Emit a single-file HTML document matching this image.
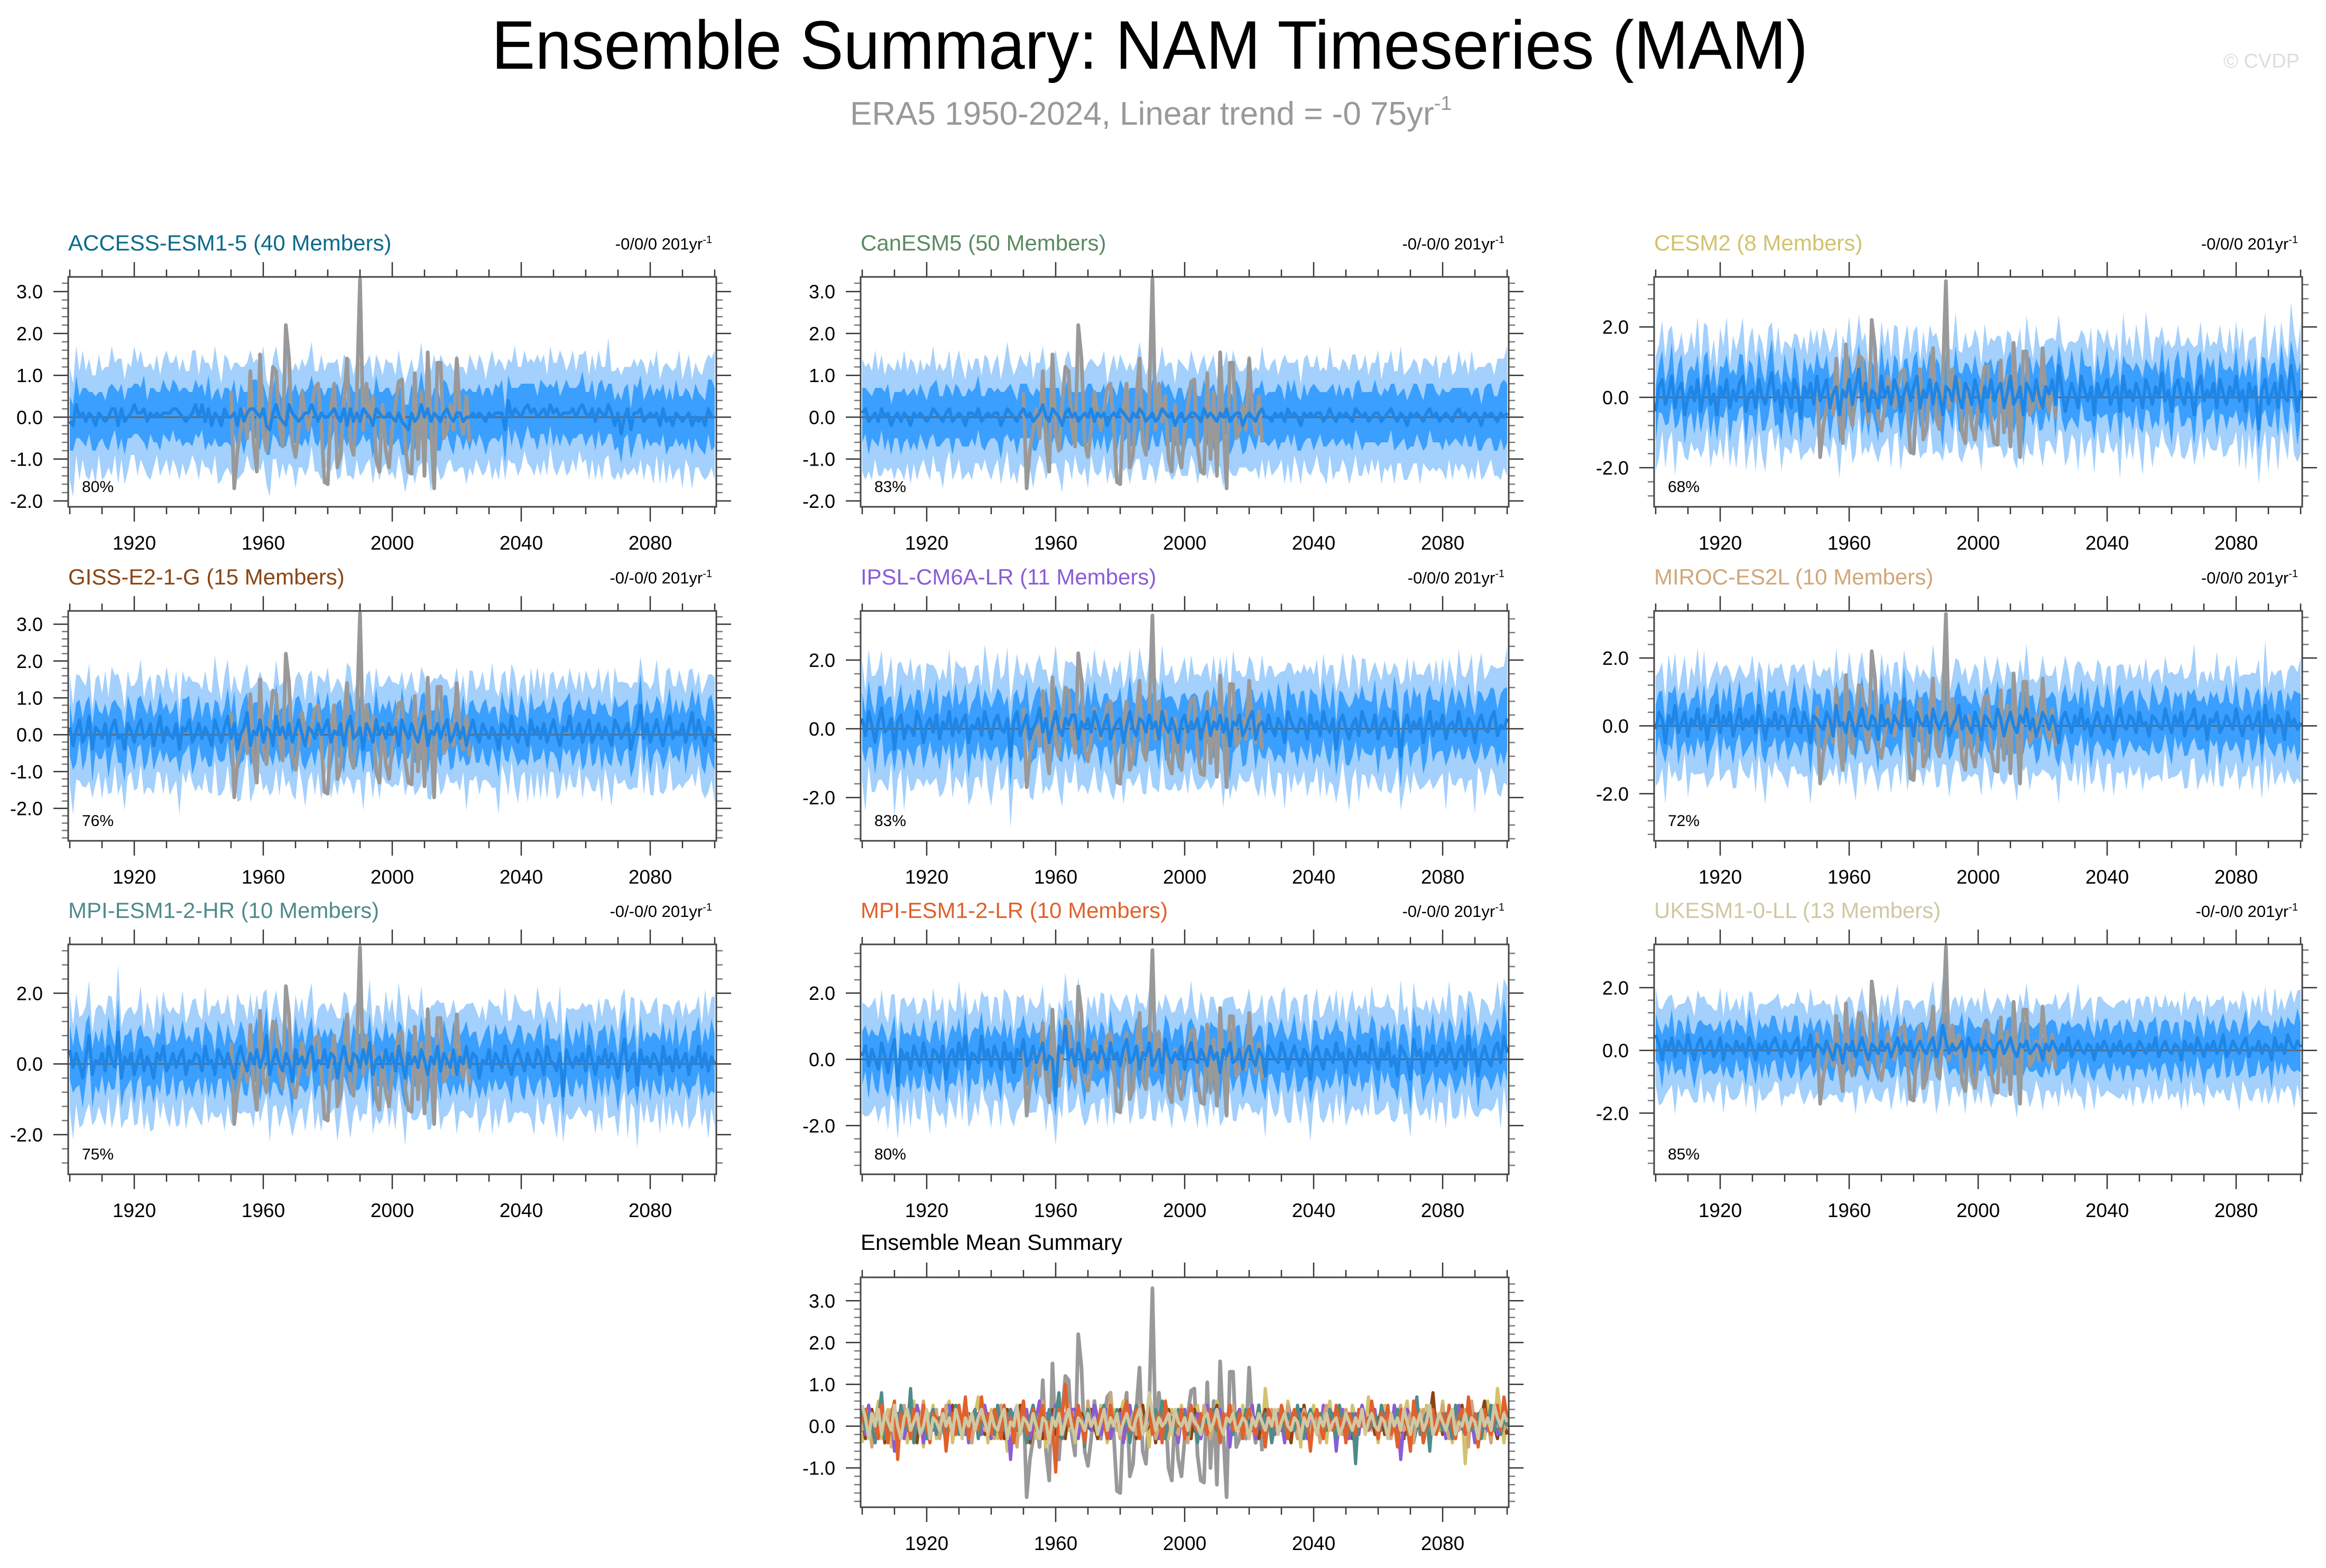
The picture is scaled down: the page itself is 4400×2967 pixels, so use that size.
<!DOCTYPE html>
<html><head><meta charset="utf-8"><style>
html,body{margin:0;padding:0;background:#fff;}
svg{display:block;font-family:"Liberation Sans",sans-serif;}
</style></head><body>
<svg id="chart" xmlns="http://www.w3.org/2000/svg" width="4400" height="2967" viewBox="0 0 4400 2967">
<rect x="0" y="0" width="4400" height="2967" fill="#fff"/>
<text x="2175" y="130" font-size="130" text-anchor="middle" textLength="2490" lengthAdjust="spacingAndGlyphs" fill="#000">Ensemble Summary: NAM Timeseries (MAM)</text>
<text x="1608" y="236" font-size="62" fill="#999">ERA5 1950-2024, Linear trend = -0 75yr<tspan dy="-28" font-size="38">-1</tspan></text>
<text x="4350" y="128" font-size="38" text-anchor="end" fill="#ddd">© CVDP</text>
</svg>
<script>
const startYear = 1900;
const endYear = 2100;
const era5Start = 1950;
const era5 = [0.6,-1.7,-0.8,-0.3,0.2,-0.5,1.1,-0.6,-1.3,1.5,-0.4,-0.8,0.3,1.2,1.1,-0.2,-0.7,2.2,1.4,-0.6,-0.95,-0.3,0.6,0.1,-0.3,0.2,0.7,0.8,-0.2,-1.55,-1.6,0.2,0.8,-1.2,-0.9,0.4,1.4,-0.6,-0.9,0.5,3.3,-0.3,0.8,-0.1,0.5,-1.0,-1.3,0.3,-0.8,-1.2,-0.3,0.3,0.85,0.9,-0.7,-1.3,-1.35,1.05,-1.0,0.6,-1.4,1.55,-0.2,-1.7,1.3,1.3,-0.5,-0.3,0.3,-0.3,1.4,0.1,-0.4,0.5,-0.6];

const accessMean = [-0.1,-0.2,0.3,0.0,0.1,-0.1,0.1,0.0,-0.2,0.1,0.0,-0.1,0.0,0.2,0.2,-0.2,0.2,-0.1,0.0,0.1,0.3,0.1,0.1,0.2,-0.1,0.1,0.0,0.1,0.0,0.1,0.1,0.1,0.2,0.2,0.1,0.0,-0.1,0.0,0.1,0.3,0.0,0.3,-0.1,0.2,-0.2,0.1,0.0,-0.2,0.2,0.0,0.0,0.1,-0.2,0.2,-0.1,0.1,0.2,0.2,0.1,0.0,0.2,-0.2,-0.3,0.1,0.3,0.0,-0.1,-0.2,0.3,0.1,0.0,-0.1,0.0,0.1,0.1,0.3,0.1,-0.1,0.1,0.0,0.0,0.1,0.2,0.0,-0.1,0.2,-0.2,0.2,-0.1,0.1,-0.1,0.2,0.1,0.0,-0.2,0.2,0.1,0.0,0.0,0.1,0.0,-0.1,0.1,-0.1,-0.2,-0.3,0.1,-0.1,0.0,0.3,0.0,0.2,-0.1,0.1,0.0,-0.1,0.1,0.2,0.0,-0.1,0.1,0.1,-0.1,0.0,0.0,0.1,0.0,0.1,0.0,-0.1,0.1,0.0,0.1,0.1,0.1,-0.3,0.4,0.0,0.2,0.1,0.0,0.2,0.3,0.1,0.2,0.0,0.1,0.2,0.0,0.3,0.1,0.2,0.0,0.1,0.1,0.1,0.2,0.0,0.2,0.3,0.1,0.0,0.2,-0.1,0.2,0.1,0.0,0.3,0.1,-0.2,0.1,-0.4,0.0,0.2,-0.3,0.1,0.1,0.2,-0.1,0.0,0.1,0.0,0.1,-0.2,0.2,-0.1,0.0,-0.2,0.1,0.0,-0.1,0.0,0.1,-0.2,0.0,-0.1,0.0,-0.2,0.2,0.0,0.0];
const canesmMean = [0.1,0.2,-0.1,0.0,0.1,-0.1,0.2,0.0,0.1,-0.2,0.0,0.1,-0.1,0.1,0.0,-0.2,0.1,0.0,0.1,0.0,-0.1,0.0,0.2,0.1,0.0,-0.1,0.1,0.2,-0.1,0.0,0.1,0.0,-0.2,0.1,0.1,0.0,0.2,-0.1,0.0,0.1,0.0,0.1,0.1,-0.2,0.0,0.2,0.1,0.0,-0.1,0.1,0.2,0.0,0.1,-0.1,0.0,0.1,0.3,0.0,-0.1,0.2,0.1,0.0,-0.2,0.1,0.2,0.0,0.1,-0.1,0.0,0.1,0.0,0.2,-0.1,0.1,0.0,0.1,-0.2,0.0,0.1,0.0,0.2,0.1,0.0,-0.1,0.1,0.0,0.2,0.1,-0.1,0.0,0.1,-0.1,0.0,0.2,0.1,0.0,0.1,-0.2,0.0,0.1,-0.1,0.0,0.1,0.1,0.0,-0.1,0.2,0.0,0.1,0.0,-0.1,0.1,0.0,0.2,-0.1,0.0,0.1,0.1,-0.2,0.0,0.1,0.0,-0.1,0.1,0.2,0.0,0.0,-0.1,0.1,0.0,0.1,-0.1,0.2,0.0,0.1,0.0,-0.2,0.1,0.0,0.1,0.0,0.1,0.1,-0.1,0.0,0.2,0.0,-0.1,0.1,0.0,0.1,0.0,-0.1,0.2,0.1,0.0,0.1,-0.1,0.0,0.1,0.1,-0.1,0.0,0.1,0.2,0.0,-0.1,0.1,0.0,-0.2,0.1,0.0,0.1,0.0,-0.1,0.1,0.2,0.0,0.1,-0.1,0.0,0.1,0.0,-0.1,0.1,0.2,0.0,0.1,-0.1,0.0,0.1,0.0,-0.2,0.1,0.0,0.1,0.0,-0.1,0.1,0.0,0.1];
const cesm2Mean = [-0.4,0.3,0.5,-0.2,0.1,0.6,-0.3,0.2,0.4,-0.5,0.0,0.3,-0.1,0.5,-0.4,0.2,0.6,-0.2,0.1,-0.5,0.3,0.0,0.5,-0.3,0.2,-0.1,0.4,0.6,-0.4,0.1,0.2,-0.3,0.5,0.0,-0.2,0.3,0.7,-0.1,0.2,-0.4,0.4,0.1,-0.3,0.5,0.2,-0.6,0.3,0.0,0.4,-0.2,0.6,-0.1,0.2,0.5,-0.3,0.1,0.3,-0.5,0.2,0.0,0.5,-0.2,0.3,0.8,-0.1,0.4,-0.4,0.2,0.1,-0.3,0.6,0.0,0.3,-0.2,0.5,0.2,-0.4,0.1,0.4,-0.1,0.3,0.6,-0.3,0.2,0.0,0.5,-0.2,0.4,0.1,-0.5,0.3,0.2,-0.1,0.6,0.0,-0.3,0.4,0.2,-0.2,0.5,0.1,-0.4,0.3,0.0,0.5,-0.1,0.2,0.4,-0.3,0.1,0.6,-0.2,0.0,0.3,-0.5,0.4,0.2,-0.1,0.5,0.0,-0.3,0.3,0.1,0.5,-0.2,0.9,0.2,-0.4,0.0,0.4,0.1,-0.3,0.6,0.2,-0.1,0.3,-0.5,0.4,0.0,0.2,0.5,-0.2,0.1,0.3,-0.4,0.6,0.0,0.2,-0.1,0.4,0.1,-0.3,0.5,0.2,-0.2,0.3,0.0,0.7,-0.1,0.2,-0.4,0.3,0.5,0.0,-0.2,0.4,0.1,-0.5,0.3,0.6,-0.1,0.2,0.0,0.4,-0.3,0.5,0.1,-0.2,0.3,0.0,0.6,-0.1,0.2,-0.4,0.4,0.0,0.3,-0.9,0.2,0.5,-0.2,0.1,0.4,-0.3,0.6,0.0,-0.1,0.9,0.3,-0.4,0.2];
const gissMean = [0.2,-0.3,0.1,0.4,-0.2,0.0,0.5,-0.4,0.2,0.1,-0.1,0.3,-0.3,0.2,0.4,-0.1,0.0,-0.4,0.3,0.1,-0.2,0.2,0.4,-0.1,0.0,0.3,-0.3,0.1,0.5,-0.2,0.2,0.0,-0.1,0.3,-0.4,0.2,0.1,0.4,-0.2,0.0,0.3,-0.1,0.2,0.0,-0.3,0.4,0.1,-0.2,0.2,0.5,-0.1,0.3,-0.4,0.0,0.2,0.6,-0.3,0.1,0.0,0.4,-0.2,0.2,0.1,-0.3,0.5,0.0,0.2,-0.1,0.3,-0.2,0.1,0.4,0.0,-0.3,0.2,0.1,-0.1,0.3,0.0,0.2,0.4,-0.2,0.1,0.0,0.3,-0.3,0.2,0.5,-0.1,0.0,0.2,-0.4,0.3,0.1,-0.2,0.4,0.0,0.2,-0.1,0.3,0.0,0.2,-0.3,0.4,0.1,-0.1,0.3,0.0,-0.2,0.2,0.5,-0.3,0.1,0.0,0.3,-0.1,0.2,0.4,-0.2,0.0,0.3,-0.1,0.2,-0.3,0.1,0.4,0.0,-0.2,0.3,0.1,-0.1,0.2,0.0,-0.4,0.3,0.2,-0.1,0.5,0.0,-0.2,0.2,0.1,-0.3,0.4,0.0,0.2,-0.1,0.3,-0.2,0.1,0.4,0.0,-0.3,0.2,0.1,0.5,-0.1,0.0,0.3,-0.2,0.1,0.4,-0.2,0.0,0.3,-0.1,0.2,0.0,-0.3,0.4,0.2,-0.1,0.1,0.3,-0.4,0.0,0.2,0.8,-0.1,0.3,-0.2,0.1,0.4,0.0,-0.3,0.2,0.5,-0.1,0.1,0.0,0.3,-0.2,0.2,0.6,-0.1,0.4,0.0,-0.3,0.2,0.1,-0.2];
const ipslMean = [0.3,-0.2,0.5,0.1,-0.4,0.2,0.6,-0.1,0.0,0.3,-0.6,0.2,0.4,-0.3,0.1,0.0,-0.2,0.5,0.2,-0.4,0.1,0.3,-0.1,0.4,-0.3,0.2,0.0,0.5,-0.2,0.3,-0.1,0.2,0.4,-0.4,0.1,0.0,0.3,-0.2,0.5,0.1,-0.3,0.2,0.4,0.0,-0.1,0.3,-0.8,0.2,0.5,-0.2,0.1,0.4,-0.3,0.0,0.2,0.6,-0.1,0.3,-0.4,0.1,0.5,0.0,-0.2,0.3,0.1,0.4,0.4,-0.3,0.2,0.0,0.3,-0.1,0.5,0.2,-0.2,0.1,0.4,-0.3,0.0,0.2,0.3,-0.4,0.1,0.5,0.0,-0.2,0.3,0.2,-0.1,0.4,0.0,0.2,-0.3,0.5,0.1,-0.1,0.3,0.0,-0.4,0.2,0.4,-0.1,0.2,0.0,0.3,-0.3,0.1,0.5,-0.2,0.2,0.0,0.4,-0.1,0.3,-0.5,0.2,0.1,0.4,-0.2,0.0,0.3,0.5,-0.3,0.1,0.2,-0.1,0.4,0.0,-0.2,0.3,0.1,-0.4,0.5,0.2,0.0,-0.1,0.3,0.2,-0.3,0.4,0.0,0.2,-0.2,0.5,0.1,-0.1,0.3,-0.6,0.2,0.4,0.0,-0.3,0.1,0.3,-0.2,0.5,0.2,-0.1,0.0,0.4,-0.3,0.1,0.3,0.0,-0.2,0.5,0.2,-0.8,0.1,0.4,-0.1,0.2,0.0,0.3,-0.4,0.1,0.5,-0.2,0.2,0.0,0.4,-0.3,0.1,0.2,-0.1,0.5,0.0,-0.2,0.3,0.1,-0.4,0.2,0.4,0.0,-0.1,0.3,0.5,-0.2,0.1,0.0,0.3];
const mirocMean = [-0.1,0.4,0.2,-0.5,0.3,0.0,0.6,-0.2,0.1,0.4,-0.3,0.2,0.0,0.5,-0.1,0.3,-0.4,0.2,0.1,0.6,-0.2,0.3,0.0,0.4,-0.3,0.1,0.5,-0.1,0.2,0.0,0.3,-0.2,0.6,0.1,-0.4,0.2,0.0,0.4,-0.1,0.3,0.2,-0.3,0.1,0.5,0.0,-0.2,0.4,0.1,-0.5,0.3,0.2,0.0,-0.1,0.4,0.2,-0.3,0.6,0.0,0.1,-0.2,0.4,0.1,-0.3,0.2,0.5,0.0,-0.1,0.3,0.2,-0.4,0.6,0.0,0.2,-0.2,0.3,0.1,-0.1,0.8,0.0,0.2,-0.3,0.4,0.1,0.0,0.3,-0.2,0.5,0.1,-0.1,0.2,0.4,-0.3,0.0,0.2,0.6,-0.1,0.3,0.0,-0.2,0.4,0.1,-0.4,0.3,0.2,0.0,-0.1,0.5,0.2,-0.3,0.1,0.4,0.0,-0.2,0.3,0.1,0.5,-0.1,0.2,-0.3,0.0,0.4,0.2,-0.1,0.3,0.0,-0.5,0.2,0.4,0.1,-0.2,0.3,0.0,0.5,-0.1,0.2,-0.3,0.1,0.4,0.0,-0.2,0.3,0.1,-0.4,0.2,0.5,0.0,-0.1,0.3,0.2,-0.2,0.4,0.0,0.1,-0.3,0.3,0.2,0.0,-0.1,0.5,0.1,-0.2,0.3,0.0,0.4,-0.3,0.1,0.2,0.5,-0.1,0.0,0.3,-0.4,0.2,0.1,0.4,-0.2,0.0,0.3,0.1,-0.1,0.5,0.0,-0.3,0.2,0.3,-0.1,0.1,0.4,-0.5,0.6,0.0,0.2,-0.2,0.3,0.1,-0.4,0.4,0.0,0.2,-0.1,0.1];
const mpihrMean = [0.4,-0.1,0.3,0.0,-0.4,0.2,0.8,-0.3,0.1,0.0,0.3,-0.2,0.5,0.1,-0.1,0.9,-0.4,0.2,0.0,0.3,-0.3,0.1,0.4,-0.2,0.2,0.0,-0.4,0.3,0.1,0.5,-0.2,0.0,0.3,-0.1,0.2,0.4,-0.3,0.1,0.0,0.3,0.2,-0.2,0.5,0.0,0.1,-0.3,0.4,0.2,-0.1,0.3,0.0,-0.4,0.2,0.5,0.1,-0.2,0.3,0.0,0.4,-0.1,0.2,0.8,-0.3,0.1,0.4,0.0,-0.2,0.3,0.1,-0.5,0.4,0.0,0.2,-0.1,0.3,0.5,-0.2,0.1,0.0,0.4,-0.1,0.3,0.2,-0.4,0.1,0.5,0.0,-0.2,0.3,0.2,-0.1,0.4,0.0,0.6,-0.3,0.1,0.2,-0.1,0.4,0.0,0.3,-0.2,0.5,0.1,-0.4,0.3,0.0,0.2,-0.1,0.4,0.1,-0.3,0.2,0.0,0.5,-0.2,0.3,0.1,-0.1,0.4,-0.3,0.2,0.0,0.5,-0.1,0.3,0.2,-0.4,0.1,0.0,0.4,-0.2,0.3,0.1,-0.1,0.5,0.0,-0.3,0.2,0.4,0.1,-0.2,0.3,0.0,-0.1,0.4,0.2,-0.3,0.5,0.1,0.0,-0.2,0.3,-0.9,0.4,0.1,-0.1,0.2,0.0,0.3,-0.2,0.5,0.1,-0.3,0.2,0.0,0.4,-0.1,0.3,0.1,-0.4,0.2,0.7,-0.2,0.1,0.3,-0.6,0.4,0.0,0.2,-0.1,0.3,0.1,-0.3,0.5,0.0,0.2,-0.2,0.4,-0.1,0.1,0.3,-0.3,0.2,0.0,0.5,-0.1,0.3,-0.2,0.2,0.0];
const mpilrMean = [0.1,0.4,-0.2,0.3,0.0,-0.3,0.5,0.1,-0.4,0.2,0.6,-0.8,0.3,0.0,0.2,-0.3,0.4,0.1,-0.2,0.5,0.0,-0.4,0.3,0.2,-0.1,0.4,-0.6,0.1,0.3,-0.2,0.5,0.0,0.7,-0.3,0.2,0.1,-0.1,0.7,0.0,0.3,-0.2,0.4,0.1,-0.3,0.5,0.0,0.2,-0.4,0.3,0.1,0.6,-0.2,0.0,0.4,-0.1,0.2,0.5,-0.3,0.1,0.0,-1.1,0.4,0.2,1.0,0.0,0.3,-0.2,0.5,0.1,-0.4,0.3,0.0,0.2,-0.1,0.4,0.1,-0.3,0.5,0.0,0.2,-0.2,0.3,0.6,-0.1,0.0,0.4,-0.3,0.2,0.1,0.5,-0.2,0.0,0.3,-0.4,0.6,0.1,-0.1,0.2,0.0,0.4,-0.3,0.2,0.5,0.0,-0.1,0.3,0.1,-0.2,0.4,0.0,0.2,-0.4,0.3,0.1,0.5,-0.1,0.0,0.3,-0.3,0.2,0.4,0.0,-0.2,0.3,0.1,-0.5,0.4,0.2,0.0,-0.1,0.5,0.2,-0.3,0.1,0.4,0.0,-0.2,0.3,0.1,-0.6,0.2,0.4,0.0,-0.3,0.3,0.1,-0.1,0.5,0.0,0.2,-0.4,0.3,0.1,-0.2,0.4,0.0,0.2,-0.1,0.6,0.1,-0.3,0.3,0.0,0.5,-0.2,0.1,-0.5,0.4,0.2,0.0,-0.6,0.6,0.1,0.3,-0.4,0.2,0.0,0.4,-0.2,0.1,0.3,-0.1,0.5,0.0,-0.3,0.2,0.4,-0.2,0.7,0.0,0.3,-0.5,0.1,0.4,0.0,-0.2,0.3,0.5,-0.1,0.7,0.2];
const ukesmMean = [0.5,0.2,-0.3,0.3,0.0,0.4,-0.2,0.3,0.1,-0.1,0.5,0.0,-0.3,0.2,0.4,-0.1,0.1,0.3,-0.2,0.0,0.4,-0.3,0.2,0.1,-0.1,0.3,0.0,0.2,-0.2,0.4,0.1,-0.3,0.2,0.0,0.3,-0.1,0.2,0.4,0.1,-0.2,0.3,0.0,-0.1,0.2,0.4,-0.3,0.1,0.0,0.5,-0.2,0.2,0.1,-0.1,0.3,0.0,-0.3,0.2,0.1,-0.4,0.2,0.0,0.3,-0.2,0.1,0.4,0.0,-0.3,0.2,0.1,-0.1,0.3,0.0,0.2,-0.2,0.1,0.4,-0.1,0.2,0.0,0.3,-0.2,0.1,0.3,0.0,-0.1,0.2,0.4,-0.2,0.1,0.8,0.3,-0.1,0.2,0.0,0.1,0.3,-0.2,0.4,0.1,0.0,0.2,-0.1,0.3,0.1,0.0,-0.2,0.2,0.3,-0.1,0.1,0.4,0.0,-0.2,0.2,0.1,0.3,-0.1,0.0,0.2,0.1,-0.3,0.2,0.0,0.3,0.1,-0.1,0.2,0.0,0.4,-0.2,0.1,0.3,0.0,-0.1,0.2,0.1,-0.3,0.2,0.0,0.3,0.1,-0.2,0.2,0.0,0.3,-0.1,0.1,0.2,-0.2,0.0,0.3,0.1,-0.1,0.2,0.0,0.4,-0.2,0.1,0.3,0.0,-0.1,0.2,0.1,-0.3,0.3,0.0,0.2,-0.1,0.4,0.1,-0.2,0.2,0.0,0.3,-0.1,0.1,0.5,-0.2,0.0,0.3,0.1,-0.1,0.2,0.4,-0.2,0.1,0.0,0.3,-0.1,0.2,0.1,-0.3,0.4,0.0,0.2,-0.1,0.5,0.2,0.0,0.3,0.1];

const outerUp = [1.3,1.0,1.4,1.1,1.5,1.2,1.3,1.0,1.2,1.4,1.1,1.3,1.2,1.5,1.1,1.6,1.2,1.0,1.3,1.1,1.4,1.2,1.5,1.0,1.3,1.2,1.1,1.4,1.0,1.3,1.5,1.2,1.1,1.3,1.0,1.4,1.2,1.1,1.5,1.3,1.0,1.2,1.4,1.1,1.3,1.6,1.2,1.0,1.3,1.4,1.1,1.2,1.5,1.0,1.3,1.2,1.4,1.1,1.3,1.2,1.5,1.1,1.0,1.3,1.4,1.2,1.1,1.6,1.2,1.0,1.3,1.2,1.4,1.1,1.3,1.5,1.0,1.2,1.4,1.1,1.3,1.2,1.1,1.4,1.0,1.3,1.6,1.2,1.1,1.3,1.4,1.0,1.2,1.5,1.1,1.3,1.2,1.0,1.4,1.2,1.3,1.1,1.5,1.2,1.0,1.4,1.3,1.1,1.2,1.5,1.0,1.3,1.2,1.4,1.1,1.6,1.2,1.0,1.3,1.2,1.4,1.1,1.3,1.0,1.5,1.2,1.1,1.4,1.3,1.0,1.2,1.6,1.1,1.3,1.2,1.4,1.0,1.3,1.5,1.1,1.2,1.4,1.0,1.3,1.1,1.5,1.2,1.3,1.0,1.4,1.2,1.1,1.6,1.3,1.0,1.2,1.4,1.1,1.3,1.2,1.5,1.0,1.3,1.2,1.4,1.1,1.2,1.6,1.0,1.3,1.1,1.4,1.2,1.0,1.5,1.3,1.1,1.2,1.4,1.0,1.3,1.2,1.5,1.1,1.0,1.4,1.2,1.3,1.1,1.6,1.0,1.2,1.4,1.1,1.3,1.2,1.0,1.5,1.3,1.4,1.6];
const outerDn = [1.4,1.7,1.2,1.5,1.1,1.3,1.6,1.2,1.4,1.0,1.5,1.3,1.2,1.6,1.1,1.4,1.2,1.5,1.3,1.0,1.2,1.5,1.1,1.4,1.3,1.6,1.2,1.0,1.4,1.3,1.1,1.5,1.2,1.4,1.6,1.1,1.3,1.2,1.0,1.4,1.5,1.3,1.1,1.4,1.2,1.0,1.6,1.3,1.5,1.2,1.4,1.1,1.3,1.6,1.2,1.0,1.4,1.5,1.1,1.3,1.2,1.4,1.6,1.1,1.3,1.5,1.0,1.2,1.4,1.3,1.7,1.1,1.2,1.5,1.3,1.0,1.4,1.2,1.6,1.3,1.1,1.4,1.2,1.5,1.3,1.0,1.2,1.6,1.4,1.1,1.3,1.5,1.2,1.0,1.4,1.3,1.6,1.2,1.1,1.5,1.3,1.4,1.0,1.2,1.6,1.1,1.3,1.5,1.2,1.4,1.0,1.3,1.7,1.1,1.2,1.4,1.5,1.3,1.0,1.2,1.4,1.3,1.1,1.6,1.2,1.5,1.0,1.3,1.4,1.2,1.1,1.5,1.3,1.6,1.0,1.2,1.4,1.1,1.3,1.5,1.2,1.0,1.4,1.3,1.6,1.1,1.5,1.2,1.4,1.0,1.3,1.6,1.2,1.1,1.5,1.4,1.2,1.3,1.0,1.4,1.1,1.5,1.2,1.4,1.3,1.6,1.0,1.2,1.5,1.3,1.4,1.1,1.2,1.6,1.0,1.3,1.5,1.2,1.4,1.1,1.3,1.6,1.0,1.4,1.2,1.5,1.1,1.3,1.4,1.2,1.6,1.0,1.3,1.5,1.2,1.1,1.4,1.3,1.6,1.2,1.5];
const innerUp = [0.6,0.5,0.7,0.5,0.6,0.8,0.5,0.6,0.7,0.5,0.6,0.5,0.7,0.6,0.5,0.8,0.6,0.5,0.7,0.6,0.5,0.7,0.6,0.8,0.5,0.6,0.7,0.5,0.6,0.8,0.6,0.5,0.7,0.6,0.5,0.7,0.8,0.6,0.5,0.6,0.7,0.5,0.6,0.8,0.6,0.5,0.7,0.6,0.5,0.7,0.6,0.8,0.5,0.6,0.7,0.5,0.6,0.7,0.8,0.5,0.6,0.7,0.5,0.6,0.8,0.6,0.5,0.7,0.6,0.5,0.8,0.6,0.7,0.5,0.6,0.7,0.5,0.8,0.6,0.5,0.7,0.6,0.5,0.8,0.6,0.7,0.5,0.6,0.7,0.5,0.8,0.6,0.5,0.7,0.6,0.8,0.5,0.6,0.7,0.6,0.5,0.7,0.6,0.8,0.5,0.6,0.7,0.5,0.6,0.8,0.6,0.7,0.5,0.6,0.7,0.5,0.8,0.6,0.5,0.7,0.6,0.5,0.8,0.6,0.7,0.5,0.6,0.7,0.5,0.8,0.6,0.5,0.7,0.6,0.8,0.5,0.6,0.7,0.5,0.6,0.8,0.6,0.5,0.7,0.6,0.5,0.8,0.6,0.7,0.5,0.6,0.7,0.5,0.6,0.8,0.6,0.5,0.7,0.6,0.8,0.5,0.6,0.7,0.5,0.6,0.8,0.6,0.5,0.7,0.6,0.5,0.8,0.7,0.6,0.5,0.7,0.6,0.8,0.5,0.6,0.7,0.5,0.6,0.8,0.6,0.5,0.7,0.6,0.8,0.5,0.6,0.7,0.5,0.6,0.8,0.7,0.5,0.6,0.7,0.9,0.7];
const innerDn = [0.7,0.6,0.8,0.5,0.7,0.6,0.5,0.8,0.6,0.7,0.5,0.6,0.8,0.7,0.5,0.6,0.7,0.8,0.5,0.6,0.7,0.5,0.6,0.8,0.7,0.5,0.6,0.7,0.8,0.5,0.6,0.7,0.5,0.8,0.6,0.7,0.5,0.6,0.8,0.7,0.5,0.6,0.7,0.8,0.5,0.6,0.7,0.5,0.8,0.6,0.7,0.5,0.6,0.7,0.8,0.6,0.5,0.7,0.6,0.8,0.5,0.7,0.6,0.5,0.8,0.7,0.6,0.5,0.7,0.8,0.6,0.5,0.7,0.6,0.8,0.5,0.7,0.6,0.5,0.8,0.6,0.7,0.5,0.6,0.8,0.7,0.5,0.6,0.7,0.8,0.5,0.6,0.7,0.5,0.8,0.6,0.7,0.5,0.6,0.8,0.7,0.5,0.6,0.8,0.7,0.5,0.6,0.7,0.5,0.8,0.6,0.7,0.5,0.6,0.8,0.7,0.5,0.6,0.7,0.8,0.5,0.6,0.7,0.5,0.8,0.6,0.7,0.5,0.6,0.8,0.7,0.5,0.6,0.7,0.5,0.8,0.6,0.7,0.5,0.6,0.8,0.7,0.5,0.6,0.7,0.8,0.5,0.6,0.7,0.5,0.8,0.6,0.7,0.5,0.6,0.8,0.7,0.5,0.6,0.7,0.8,0.5,0.6,0.7,0.5,0.8,0.6,0.7,0.5,0.6,0.8,0.7,0.5,0.6,0.7,0.8,0.5,0.6,0.7,0.5,0.8,0.6,0.7,0.5,0.6,0.8,0.7,0.5,0.6,0.7,0.5,0.8,0.6,0.7,0.5,0.6,0.8,0.7,0.6,0.8,0.7];

const modelNames = ["ACCESS-ESM1-5","CanESM5","CESM2","GISS-E2-1-G","IPSL-CM6A-LR","MIROC-ES2L","MPI-ESM1-2-HR","MPI-ESM1-2-LR","UKESM1-0-LL"];
const memberCounts = [40,50,8,15,11,10,10,10,13];
const trendLabels = ["-0/0/0 201yr","-0/-0/0 201yr","-0/0/0 201yr","-0/-0/0 201yr","-0/0/0 201yr","-0/0/0 201yr","-0/-0/0 201yr","-0/-0/0 201yr","-0/-0/0 201yr"];
const pctLabels = ["80%","83%","68%","76%","83%","72%","75%","80%","85%"];
const modelMeans = [accessMean,canesmMean,cesm2Mean,gissMean,ipslMean,mirocMean,mpihrMean,mpilrMean,ukesmMean];
const spreadScale = [1.0,1.0,1.2,1.1,1.3,1.2,1.2,1.25,1.15];
const yMins = [-2.14,-2.14,-3.11,-2.88,-3.26,-3.39,-3.12,-3.47,-3.95];
const yMaxs = [3.35,3.35,3.42,3.36,3.43,3.39,3.38,3.47,3.38];
const yTickSteps = [1,1,2,1,2,2,2,2,2];
const ensYMin = -1.94, ensYMax = 3.56, ensTickStep = 1;

const modelColors = ["#0a6a8c","#5b8a5f","#d2c26c","#8a4513","#8a5cd8","#d2a679","#4f8b8b","#e0612c","#cfc8a2"];
const NS = "http://www.w3.org/2000/svg";
const svg = document.getElementById("chart");
function mk(tag, attrs, parent){ const e=document.createElementNS(NS,tag); for(const k in attrs) e.setAttribute(k,attrs[k]); parent.appendChild(e); return e; }

const colX = [129,1628,3129], rowY = [524,1156,1787], PW = 1226, PH = 435;

function axes(x0, y0, ymin, ymax){
  const xs = yr => x0 + 3 + (yr-startYear)/(endYear-startYear)*(PW-6);
  const ys = v => y0 + (ymax - v)/(ymax-ymin)*PH;
  return {xs, ys};
}

function drawFrame(g, x0, y0, ymin, ymax, step, xs, ys){
  for(let yr=startYear; yr<=endYear; yr+=10){
    const major = (yr-1920)%40===0;
    const len = major?28:14;
    const t1 = mk("line",{x1:xs(yr),x2:xs(yr),y1:y0,y2:y0-len,stroke:"#333","stroke-width":2.5},g);
    
    
    const t2 = mk("line",{x1:xs(yr),x2:xs(yr),y1:y0+PH,y2:y0+PH+len,stroke:"#333","stroke-width":2.5},g);
    
    
    if(major){
      const lb = mk("text",{x:xs(yr),y:y0+PH+81,"font-size":37,"text-anchor":"middle",fill:"#000"},g);
      lb.textContent = String(yr);
      
      
    }
  }
  const minor = step/5;
  for(let k=Math.ceil(ymin/minor); k*minor<=ymax; k++){
    const v = k*minor;
    const isMajor = Math.abs(Math.round(v/step)*step - v) < 1e-6;
    const len = isMajor?28:12;
    const l1 = mk("line",{x1:x0,x2:x0-len,y1:ys(v),y2:ys(v),stroke:isMajor?"#333":"#777","stroke-width":2.5},g);
    
    
    const l2 = mk("line",{x1:x0+PW,x2:x0+PW+len,y1:ys(v),y2:ys(v),stroke:isMajor?"#333":"#777","stroke-width":2.5},g);
    
    
    if(isMajor){
      const lb = mk("text",{x:x0-48,y:ys(v)+13,"font-size":36,"text-anchor":"end",fill:"#000"},g);
      lb.textContent = v.toFixed(1);
      
      
    }
  }
  const box = mk("rect",{x:x0,y:y0,width:PW,height:PH,fill:"none",stroke:"#444","stroke-width":3},g);
  
  
}

function linePts(arr, first, xs, ys){ return arr.map((v,i)=>xs(first+i).toFixed(1)+","+ys(v).toFixed(1)).join(" "); }

modelNames.forEach((name, m) => {
  const x0 = colX[m%3], y0 = rowY[Math.floor(m/3)];
  const g = mk("g",{},svg);
  
  
  const {xs, ys} = axes(x0, y0, yMins[m], yMaxs[m]);
  const cp = mk("clipPath",{id:"clip"+m},g);
  mk("rect",{x:x0,y:y0,width:PW,height:PH},cp);
  const plot = mk("g",{"clip-path":"url(#clip"+m+")"},g);
  const mean = modelMeans[m], s = spreadScale[m];
  const up = [], dn = [], iu = [], idn = [];
  mean.forEach((v,i)=>{
    up.push(xs(startYear+i).toFixed(1)+","+ys(v+outerUp[i]*s).toFixed(1));
    dn.push(xs(startYear+i).toFixed(1)+","+ys(v-outerDn[i]*s).toFixed(1));
    iu.push(xs(startYear+i).toFixed(1)+","+ys(v+innerUp[i]*s).toFixed(1));
    idn.push(xs(startYear+i).toFixed(1)+","+ys(v-innerDn[i]*s).toFixed(1));
  });
  const ob = mk("polygon",{points:up.concat(dn.reverse()).join(" "),fill:"#a3d0fc"},plot);
  
  
  const ib = mk("polygon",{points:iu.concat(idn.reverse()).join(" "),fill:"#3a9ffe"},plot);
  
  
  const z = mk("line",{x1:x0,x2:x0+PW,y1:ys(0),y2:ys(0),stroke:"#666","stroke-width":3},plot);
  
  
  const ol = mk("polyline",{points:linePts(era5,era5Start,xs,ys),fill:"none",stroke:"#999","stroke-width":7,"stroke-linejoin":"round"},plot);
  
  
  const ml = mk("polyline",{points:linePts(mean,startYear,xs,ys),fill:"none",stroke:"#1f86e6","stroke-width":6,"stroke-linejoin":"round"},plot);
  
  
  drawFrame(g, x0, y0, yMins[m], yMaxs[m], yTickSteps[m], xs, ys);
  const t = mk("text",{x:x0,y:y0-50,"font-size":42,fill:modelColors[m]},g);
  t.textContent = name+" ("+memberCounts[m]+" Members)";
  
  
  const tr = mk("text",{x:x0+PW-8,y:y0-52,"font-size":31,"text-anchor":"end",fill:"#000"},g);
  tr.innerHTML = trendLabels[m]+'<tspan dy="-12" font-size="20">-1</tspan>';
  
  
  const pc = mk("text",{x:x0+26,y:y0+PH-28,"font-size":30,fill:"#000"},g);
  pc.textContent = pctLabels[m];
  
  
});

(function(){
  const x0 = 1628, y0 = 2417;
  const g = mk("g",{},svg);
  
  
  const {xs, ys} = axes(x0, y0, ensYMin, ensYMax);
  const cp = mk("clipPath",{id:"clipEns"},g);
  mk("rect",{x:x0,y:y0,width:PW,height:PH},cp);
  const plot = mk("g",{"clip-path":"url(#clipEns)"},g);
  const z = mk("line",{x1:x0,x2:x0+PW,y1:ys(0),y2:ys(0),stroke:"#666","stroke-width":3},plot);
  
  
  const ol = mk("polyline",{points:linePts(era5,era5Start,xs,ys),fill:"none",stroke:"#999","stroke-width":7,"stroke-linejoin":"round"},plot);
  
  
  modelMeans.forEach((arr,m)=>{
    const l = mk("polyline",{points:linePts(arr,startYear,xs,ys),fill:"none",stroke:modelColors[m],"stroke-width":6,"stroke-linejoin":"round"},plot);
    
    
  });
  drawFrame(g, x0, y0, ensYMin, ensYMax, ensTickStep, xs, ys);
  const t = mk("text",{x:x0,y:y0-52,"font-size":42,fill:"#000"},g);
  t.textContent = "Ensemble Mean Summary";
  
  
})();
</script>
</body></html>
